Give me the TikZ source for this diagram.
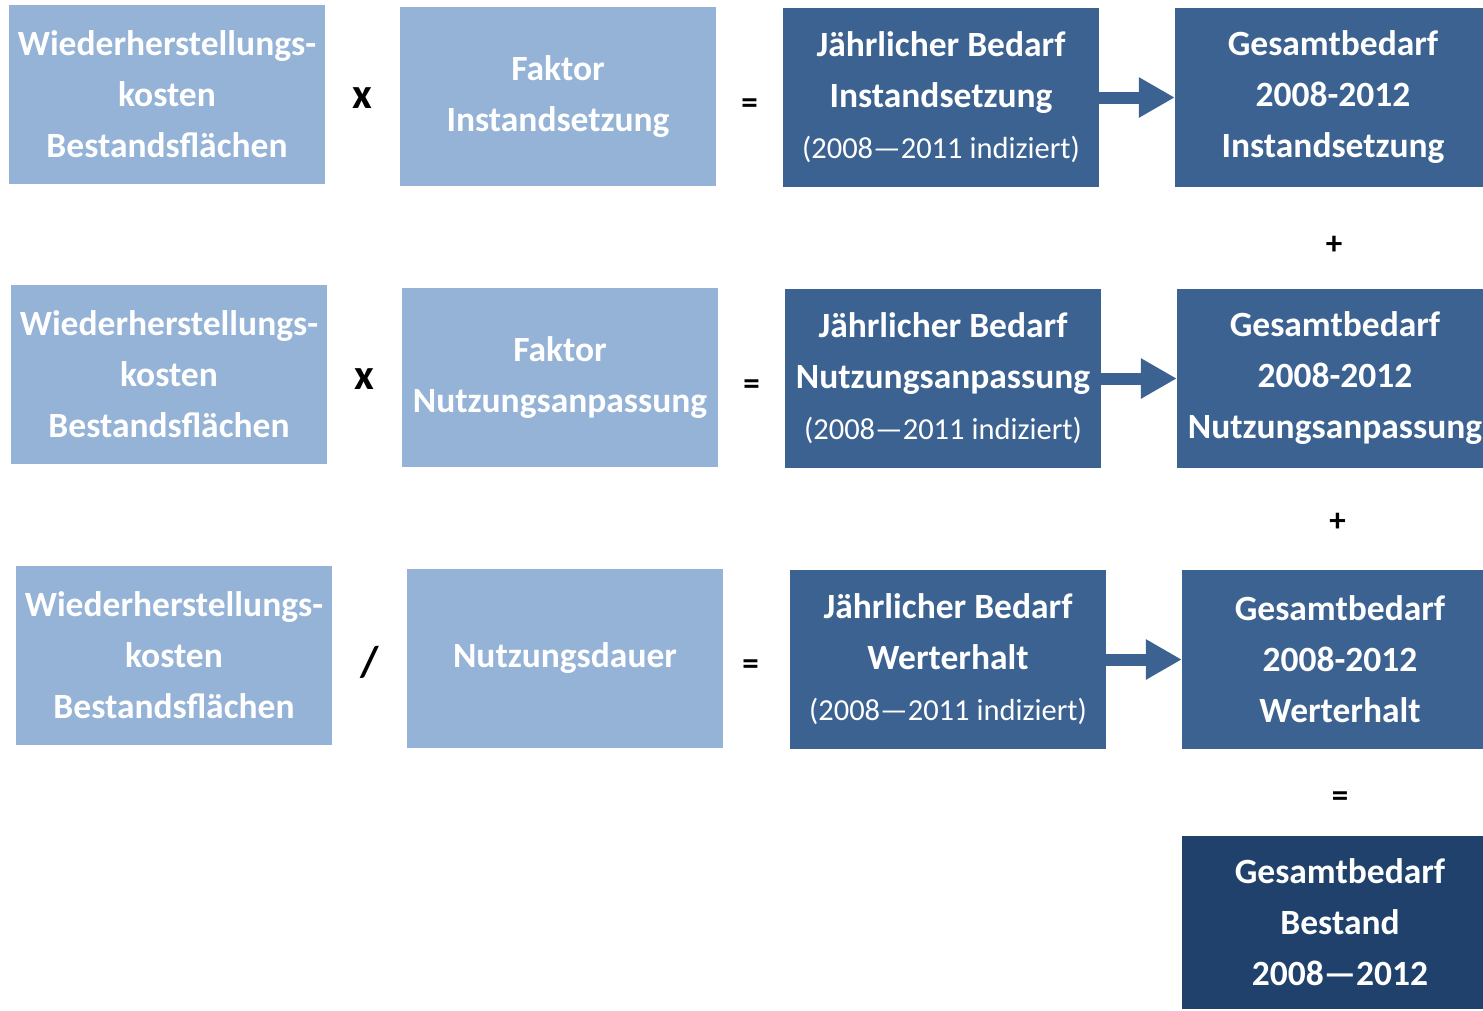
\documentclass[tikz,border=0pt]{standalone}
\usepackage{fontspec}
\setmainfont{Carlito}
\usetikzlibrary{arrows.meta,calc}
\definecolor{boxLight}{HTML}{95B3D7}
\definecolor{boxMid}{HTML}{3C6291}
\definecolor{boxDark}{HTML}{1F416C}
\tikzset{
  cell/.style={minimum width=316pt, minimum height=179pt, inner sep=0pt, align=center,
    text=white, font=\fontsize{35.5}{51}\selectfont\bfseries},
  cellLight/.style={cell, fill=boxLight},
  cellMid/.style={cell, fill=boxMid},
  cellDark/.style={cell, fill=boxDark},
  op/.style={inner sep=0pt, font=\fontsize{33}{40}\selectfont\bfseries},
  bigop/.style={op, font=\fontsize{43}{48}\selectfont\bfseries},
  flow/.style={draw=boxMid, line width=12pt, -{Triangle[length=36pt,width=38pt,fill=boxMid]}}
}
\newcommand{\idx}{{\mdseries\fontsize{30.5}{51}\selectfont (2008—2011 indiziert)}}
\begin{document}
\begin{tikzpicture}[x=1pt, y=-1pt]
\useasboundingbox (0,0) rectangle (1483,1010);

\node[cellLight] (kostenI) at (167,94.5) {Wiederherstellungs-\\kosten\\Bestandsflächen};
\node[cellLight] (faktorI) at (558,96.5) {Faktor\\Instandsetzung};
\node[cellMid] (jahrI) at (941,97.5) {Jährlicher Bedarf\\Instandsetzung\\\idx};
\node[cellMid] (gesamtI) at (1333,97.5) {Gesamtbedarf\\2008-2012\\Instandsetzung};

\node[cellLight] (kostenN) at (169,374.5) {Wiederherstellungs-\\kosten\\Bestandsflächen};
\node[cellLight] (faktorN) at (560,377.5) {Faktor\\Nutzungsanpassung};
\node[cellMid] (jahrN) at (943,378.5) {Jährlicher Bedarf\\Nutzungsanpassung\\\idx};
\node[cellMid] (gesamtN) at (1335,378.5) {Gesamtbedarf\\2008-2012\\Nutzungsanpassung};

\node[cellLight] (kostenW) at (174,655.5) {Wiederherstellungs-\\kosten\\Bestandsflächen};
\node[cellLight] (dauerW) at (565,658.5) {Nutzungsdauer};
\node[cellMid] (jahrW) at (948,659.5) {Jährlicher Bedarf\\Werterhalt\\\idx};
\node[cellMid] (gesamtW) at (1340,659.5) {Gesamtbedarf\\2008-2012\\Werterhalt};

\node[cellDark, minimum height=173pt] (bestand) at (1340,922.5) {Gesamtbedarf\\Bestand\\2008—2012};

\node[bigop] (malI) at ($(kostenI.east)!0.5!(faktorI.west)+(0,3)$) {x};
\node[op] (gleichI) at ($(faktorI.east)!0.5!(jahrI.west)+(0,9)$) {=};
\node[bigop] (malN) at ($(kostenN.east)!0.5!(faktorN.west)+(0,3)$) {x};
\node[op] (gleichN) at ($(faktorN.east)!0.5!(jahrN.west)+(0,9)$) {=};
\node[bigop] (durchW) at ($(kostenW.east)!0.5!(dauerW.west)+(0,5)$) {/};
\node[op] (gleichW) at ($(dauerW.east)!0.5!(jahrW.west)+(-6,8)$) {=};
\node[op] (plusI) at ($(gesamtI.south)!0.5!(gesamtN.north)+(0,7)$) {+};
\node[op] (plusN) at ($(gesamtN.south)!0.5!(gesamtW.north)+(0,3)$) {+};
\node[op] (gleichB) at ($(gesamtW.south)!0.5!(bestand.north)+(0,7)$) {=};

\draw[flow] (jahrI.east) -- (gesamtI.west);
\draw[flow] (jahrN.east) -- (gesamtN.west);
\draw[flow] (jahrW.east) -- (gesamtW.west);
\end{tikzpicture}
\end{document}
